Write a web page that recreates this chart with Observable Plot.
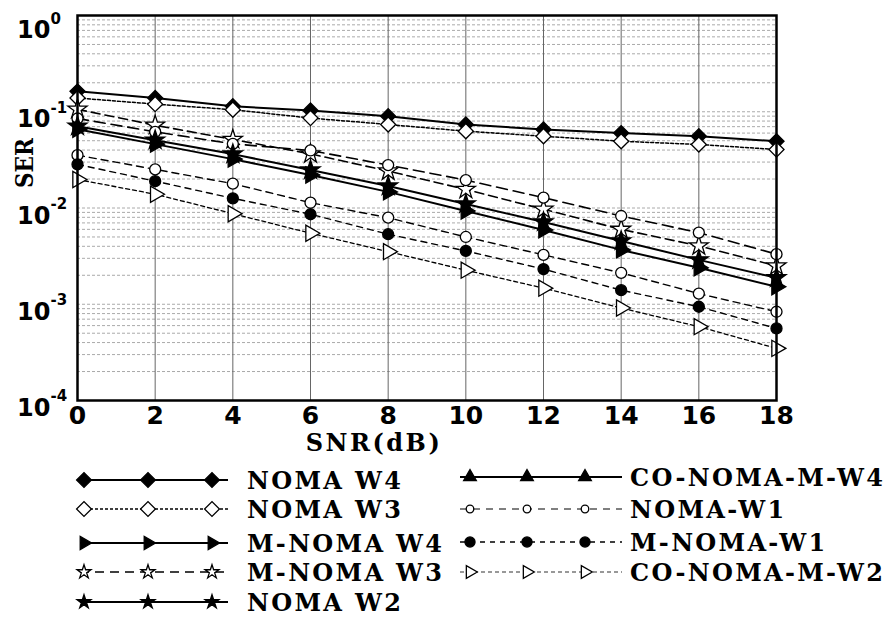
<!DOCTYPE html>
<html><head><meta charset="utf-8">
<script src="https://cdn.jsdelivr.net/npm/d3@7"></script>
<script src="https://cdn.jsdelivr.net/npm/@observablehq/plot@0.6"></script>
<style>
body{margin:0;background:#fff;}
#chart{width:896px;}
#chart svg{display:block;}
</style></head><body><div id="chart"></div>
<script>
// ---- data ----
const snr = [0, 2, 4, 6, 8, 10, 12, 14, 16, 18];
const nomaW4      = [0.163, 0.139, 0.114, 0.103, 0.090, 0.0736, 0.0654, 0.060, 0.0557, 0.0494];
const nomaW3      = [0.139, 0.120, 0.105, 0.086, 0.0737, 0.0628, 0.0557, 0.0494, 0.0457, 0.0405];
const mNomaW3     = [0.106, 0.0724, 0.0515, 0.0365, 0.0242, 0.0156, 0.0097, 0.0060, 0.00404, 0.0025];
const coNomaMW4   = [0.0851, 0.0618, 0.0464, 0.0396, 0.0279, 0.0195, 0.0128, 0.00826, 0.00555, 0.00331];
const nomaW2      = [0.0708, 0.0507, 0.0363, 0.0248, 0.0169, 0.0110, 0.00716, 0.00455, 0.00289, 0.00188];
const mNomaW4     = [0.0659, 0.0461, 0.0322, 0.0220, 0.0147, 0.00931, 0.00592, 0.00367, 0.00239, 0.00152];
const nomaW1      = [0.0354, 0.0252, 0.0179, 0.01135, 0.00793, 0.0050, 0.00326, 0.00212, 0.00129, 0.000836];
const mNomaW1     = [0.0284, 0.0190, 0.0126, 0.00861, 0.00534, 0.00358, 0.00232, 0.00140, 0.000942, 0.000561];
const coNomaMW2   = [0.0198, 0.0139, 0.00873, 0.00547, 0.00352, 0.00226, 0.00147, 0.000914, 0.000585, 0.000348];

const xTicks = [0, 2, 4, 6, 8, 10, 12, 14, 16, 18];
const yTicks = [1, 0.1, 0.01, 0.001, 0.0001];
const yTickExp = ["0", "-1", "-2", "-3", "-4"];
const xLabel = "SNR(dB)";
const yLabel = "SER";

// ---- styles ----
const seriesDefs = [
  {name: "NOMA W4",       values: nomaW4,    sym: "square",   rot: 45, fill: "black", r: 6,   w: 2,   dash: null},
  {name: "NOMA W3",       values: nomaW3,    sym: "square",   rot: 45, fill: "white", r: 6,   w: 1.5, dash: "3,2"},
  {name: "M-NOMA W3",     values: mNomaW3,   sym: "star",     rot: 0,  fill: "white", r: 6,   w: 1.6, dash: "9,5"},
  {name: "CO-NOMA-M-W4",  values: coNomaMW4, sym: "circle",   rot: 0,  fill: "white", r: 5.5, w: 1.6, dash: "11,6"},
  {name: "NOMA W2",       values: nomaW2,    sym: "star",     rot: 0,  fill: "black", r: 6,   w: 2,   dash: null},
  {name: "M-NOMA W4",     values: mNomaW4,   sym: "triangle", rot: 90, fill: "black", r: 6,   w: 2,   dash: null},
  {name: "NOMA-W1",       values: nomaW1,    sym: "circle",   rot: 0,  fill: "white", r: 5.5, w: 1.4, dash: "7,5"},
  {name: "M-NOMA-W1",     values: mNomaW1,   sym: "circle",   rot: 0,  fill: "black", r: 5.5, w: 1.4, dash: "6,5"},
  {name: "CO-NOMA-M-W2",  values: coNomaMW2, sym: "triangle", rot: 90, fill: "white", r: 6,   w: 1.3, dash: "4,3"}
];

const minorTicks = d3.range(-4, 0).flatMap(e => d3.range(1, 10).map(k => k * 10 ** e));

const marks = [
  Plot.ruleY(minorTicks, {stroke: "#a0a0a0", strokeWidth: 0.9, strokeDasharray: "3,2"}),
  Plot.ruleX(xTicks.slice(1, -1), {stroke: "#666", strokeWidth: 1})
];
for (const s of seriesDefs) {
  const rows = s.values.map((v, i) => ({x: snr[i], y: v}));
  marks.push(Plot.line(rows, {x: "x", y: "y", stroke: "black", strokeWidth: s.w, strokeDasharray: s.dash}));
}
for (const s of seriesDefs) {
  const rows = s.values.map((v, i) => ({x: snr[i], y: v}));
  marks.push(Plot.dot(rows, {x: "x", y: "y", symbol: () => s.sym, r: s.r, rotate: s.rot, fill: s.fill, stroke: "black", strokeWidth: 1.3}));
}
marks.push(
  Plot.frame({stroke: "black", strokeWidth: 2.5}),
  Plot.axisX(xTicks, {tickSize: 0, tickPadding: 6, fontSize: 25, fontWeight: "bold", fontFamily: "DejaVu Sans", label: null}),
  Plot.axisY({ticks: [], label: null}),
  Plot.text(yTicks.slice(0, 1), {y: d => d, text: () => "10", frameAnchor: "left", textAnchor: "end", dx: -27, dy: 15, fontSize: 24, fontWeight: "bold", fontFamily: "DejaVu Sans"}),
  Plot.text(yTicks.slice(0, 1), {y: d => d, text: (d, i) => yTickExp[i], frameAnchor: "left", textAnchor: "start", dx: -27, dy: 4, fontSize: 15, fontWeight: "bold", fontFamily: "DejaVu Sans"}),
  Plot.text(yTicks.slice(1), {y: d => d, text: () => "10", frameAnchor: "left", textAnchor: "end", dx: -27, dy: 8, fontSize: 24, fontWeight: "bold", fontFamily: "DejaVu Sans"}),
  Plot.text(yTicks.slice(1), {y: d => d, text: (d, i) => yTickExp[i + 1], frameAnchor: "left", textAnchor: "start", dx: -27, dy: -4, fontSize: 15, fontWeight: "bold", fontFamily: "DejaVu Sans"}),
  Plot.text([xLabel], {text: d => d, frameAnchor: "bottom", dx: -53, dy: 50, fontSize: 24, fontWeight: "bold", fontFamily: "DejaVu Serif"})
);

const chart = Plot.plot({
  width: 896, height: 462,
  marginLeft: 77, marginRight: 120, marginTop: 15, marginBottom: 62,
  x: {domain: [0, 18]},
  y: {type: "log", domain: [1e-4, 1]},
  style: {background: "white", overflow: "visible"},
  marks
});
d3.select(chart).selectAll("text").filter(function () { return this.textContent === xLabel; })
  .attr("letter-spacing", 2.5);
d3.select(chart).append("text")
  .attr("transform", "translate(33,163) rotate(-90)")
  .attr("text-anchor", "middle")
  .attr("font-family", "DejaVu Serif").attr("font-weight", "bold").attr("font-size", 24)
  .style("font-stretch", "condensed")
  .text(yLabel);
document.getElementById("chart").appendChild(chart);

// ---- legend ----
const legendItems = [
  {label: "NOMA W4",      col: 0, row: 0, sym: d3.symbolSquare,   rot: 45, fill: "black", size: 110, w: 2,   dash: null, stroke: "black"},
  {label: "NOMA W3",      col: 0, row: 1, sym: d3.symbolSquare,   rot: 45, fill: "white", size: 110, w: 1.5, dash: "3,2", stroke: "black"},
  {label: "M-NOMA W4",    col: 0, row: 2, sym: d3.symbolTriangle, rot: 90, fill: "black", size: 75,  w: 2,   dash: null, stroke: "black"},
  {label: "M-NOMA W3",    col: 0, row: 3, sym: d3.symbolStar,     rot: 0,  fill: "white", size: 60,  w: 1.6, dash: "9,6", stroke: "black"},
  {label: "NOMA W2",      col: 0, row: 4, sym: d3.symbolStar,     rot: 0,  fill: "black", size: 60,  w: 2,   dash: null, stroke: "black"},
  {label: "CO-NOMA-M-W4", col: 1, row: 0, sym: d3.symbolTriangle, rot: 0,  fill: "black", size: 70,  w: 2,   dash: null, stroke: "black"},
  {label: "NOMA-W1",      col: 1, row: 1, sym: d3.symbolCircle,   rot: 0,  fill: "white", size: 45,  w: 1.2, dash: "7,6", stroke: "black"},
  {label: "M-NOMA-W1",    col: 1, row: 2, sym: d3.symbolCircle,   rot: 0,  fill: "black", size: 80,  w: 1.4, dash: "5,5", stroke: "black"},
  {label: "CO-NOMA-M-W2", col: 1, row: 3, sym: d3.symbolTriangle, rot: 90, fill: "white", size: 70,  w: 1.2, dash: "4,3", stroke: "#333"}
];
const legendTop = 462;
const rowsY = [[480, 509, 543, 572, 602], [477, 509, 542, 572]];
const cols = [
  {x0: 80, x1: 228, marks: [84, 148, 212], tx: 247},
  {x0: 460, x1: 622, marks: [470, 527, 585], tx: 630}
];
const lsvg = d3.create("svg").attr("width", 896).attr("height", 619 - legendTop)
  .style("background", "white");
for (const it of legendItems) {
  const c = cols[it.col];
  const y = rowsY[it.col][it.row] - legendTop;
  const g = lsvg.append("g");
  g.append("line").attr("x1", c.x0).attr("x2", c.x1).attr("y1", y).attr("y2", y)
    .attr("stroke", it.stroke).attr("stroke-width", it.w).attr("stroke-dasharray", it.dash);
  for (const mx of c.marks) {
    g.append("path").attr("d", d3.symbol(it.sym, it.size)())
      .attr("transform", `translate(${mx},${y}) rotate(${it.rot})`)
      .attr("fill", it.fill).attr("stroke", "black").attr("stroke-width", 1.3);
  }
  g.append("text").attr("x", c.tx).attr("y", y).attr("dy", "0.36em")
    .attr("font-family", "DejaVu Serif").attr("font-weight", "bold").attr("font-size", 24)
    .attr("letter-spacing", 2.3)
    .text(it.label);
}
document.getElementById("chart").appendChild(lsvg.node());
</script>
</body></html>
